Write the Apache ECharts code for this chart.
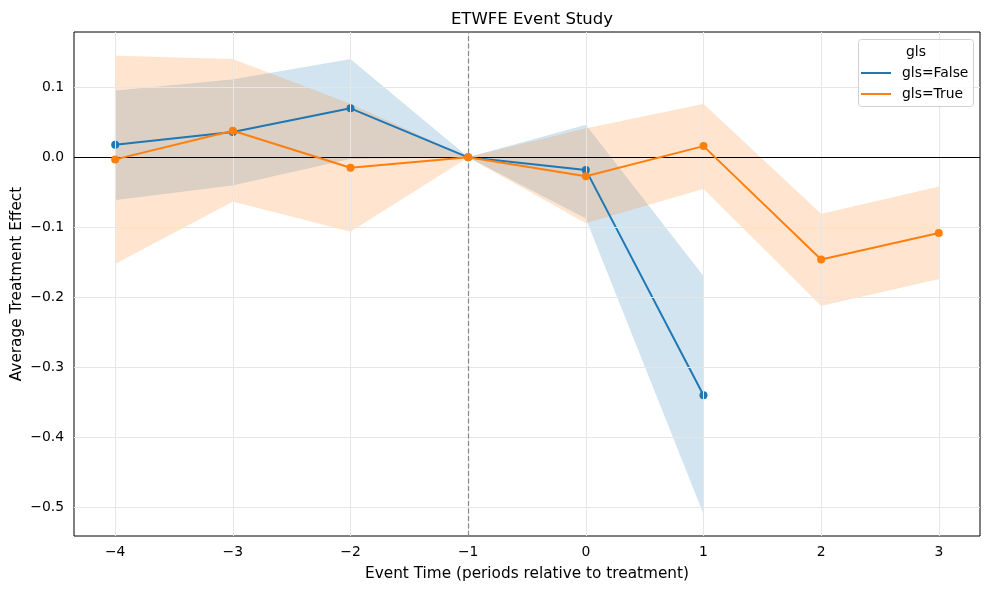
<!DOCTYPE html>
<html lang="en">
<head>
  <meta charset="UTF-8">
  <title>ETWFE Event Study</title>
  <style>
    html, body { margin: 0; padding: 0; background: #fff; }
  </style>
</head>
<body>
  <div id="main" style="width:989px;height:590px;"></div>
  <script src="https://cdn.jsdelivr.net/npm/echarts@6/dist/echarts.min.js"></script>
  <script>
  // event times and estimates
  var timesFalse = [-4, -3, -2, -1, 0, 1]
  var effectFalse = [0.018, 0.036, 0.070, 0.000, -0.018, -0.340]
  var lowerFalse = [-0.061, -0.040, -0.002, 0.000, -0.087, -0.509]
  var upperFalse = [0.095, 0.111, 0.140, 0.000, 0.046, -0.170]

  var timesTrue = [-4, -3, -2, -1, 0, 1, 2, 3]
  var effectTrue = [-0.003, 0.038, -0.015, 0.000, -0.027, 0.016, -0.146, -0.108]
  var lowerTrue = [-0.152, -0.063, -0.106, 0.000, -0.094, -0.045, -0.212, -0.174]
  var upperTrue = [0.145, 0.140, 0.076, 0.000, 0.041, 0.076, -0.081, -0.042]

  var xTicks = [-4, -3, -2, -1, 0, 1, 2, 3]
  var yTicks = [-0.5, -0.4, -0.3, -0.2, -0.1, 0.0, 0.1]
  var refTime = -1

  var BLUE = '#1f77b4'
  var ORANGE = '#ff7f0e'
  var FONT = 'DejaVu Sans'

  function minus(s) { return String(s).replace('-', '\u2212') }

  function band(name, color, xs, lo, hi) {
    return {
      name: name + ' band',
      type: 'custom',
      clip: true,
      silent: true,
      z: 1,
      data: xs.map(function (x, i) { return [x, lo[i], hi[i]] }),
      encode: { x: 0, y: [1, 2] },
      renderItem: function (params, api) {
        if (params.dataIndex !== 0) return
        var pts = []
        xs.forEach(function (x, i) { pts.push(api.coord([x, hi[i]])) })
        for (var i = xs.length - 1; i >= 0; i--) pts.push(api.coord([xs[i], lo[i]]))
        return {
          type: 'polygon',
          shape: { points: pts },
          style: { fill: color, opacity: 0.2, stroke: color, lineWidth: 1, strokeOpacity: 0.2 }
        }
      }
    }
  }

  function line(name, color, xs, ys, z) {
    return {
      name: name,
      type: 'line',
      z: z,
      data: xs.map(function (x, i) { return [x, ys[i]] }),
      symbol: 'circle',
      symbolSize: 8,
      showSymbol: true,
      itemStyle: { color: color },
      lineStyle: { color: color, width: 2 },
      emphasis: { disabled: true },
      animation: false
    }
  }

  var gridColor = '#e6e6e6'
  var guides = {
    name: 'guides',
    type: 'line',
    data: [],
    z: 0,
    silent: true,
    markLine: {
      silent: true,
      symbol: 'none',
      animation: false,
      label: { show: false },
      emphasis: { disabled: true },
      data: xTicks.map(function (v) { return { xAxis: v, lineStyle: { color: gridColor, width: 1, type: 'solid' } } })
        .concat(yTicks.map(function (v) { return { yAxis: v, lineStyle: { color: gridColor, width: 1, type: 'solid' } } }))
    }
  }

  var refs = {
    name: 'refs',
    type: 'line',
    data: [],
    z: 3,
    silent: true,
    markLine: {
      silent: true,
      symbol: 'none',
      animation: false,
      label: { show: false },
      emphasis: { disabled: true },
      data: [
        { yAxis: 0, lineStyle: { color: '#000', width: 1, type: 'solid' } },
        { xAxis: refTime, lineStyle: { color: '#888', width: 1.2, type: [5, 2.5] } }
      ]
    }
  }

  var myChart = echarts.init(document.getElementById('main'))
  var option = {
    animation: false,
    textStyle: { fontFamily: FONT },
    title: {
      text: 'ETWFE Event Study',
      left: 527,
      top: 6,
      textAlign: 'center',
      textStyle: { fontFamily: FONT, fontSize: 16.5, fontWeight: 'normal', color: '#000' }
    },
    grid: {
      left: 74, right: 9, top: 32, bottom: 54,
      outerBoundsMode: 'none',
      containLabel: false,
      show: true, borderColor: '#000', borderWidth: 1, backgroundColor: 'transparent'
    },
    legend: {
      data: ['gls=False', 'gls=True'],
      orient: 'vertical',
      left: 861,
      top: 66,
      padding: 0,
      itemWidth: 30,
      itemHeight: 2,
      itemGap: 7,
      icon: 'rect',
      z: 20,
      selectedMode: false,
      textStyle: { fontFamily: FONT, fontSize: 13.9, color: '#000', padding: [0, 0, 0, 6] }
    },
    graphic: [
      {
        type: 'rect', z: 15, left: 858, top: 39,
        shape: { width: 115, height: 67, r: 3 },
        style: { fill: 'rgba(255,255,255,0.8)', stroke: '#d0d0d0', lineWidth: 1 }
      },
      {
        type: 'text', z: 16, left: 906, top: 45,
        style: { text: 'gls', fill: '#000', font: '13.9px "DejaVu Sans"' }
      }
    ],
    xAxis: {
      type: 'value',
      min: -4.35,
      max: 3.35,
      name: 'Event Time (periods relative to treatment)',
      nameLocation: 'middle',
      nameGap: 31,
      nameMoveOverlap: false,
      nameTextStyle: { fontFamily: FONT, fontSize: 15.3, color: '#000' },
      axisLine: { show: false },
      splitLine: { show: false },
      axisTick: { show: true, length: 5, lineStyle: { color: '#000' }, customValues: xTicks },
      axisLabel: {
        customValues: xTicks,
        margin: 9,
        color: '#000',
        fontFamily: FONT,
        fontSize: 13.9,
        formatter: function (v) { return minus(v) }
      }
    },
    yAxis: {
      type: 'value',
      min: -0.541,
      max: 0.179,
      name: 'Average Treatment Effect',
      nameLocation: 'middle',
      nameGap: 49,
      nameMoveOverlap: false,
      nameTextStyle: { fontFamily: FONT, fontSize: 15.3, color: '#000' },
      axisLine: { show: false },
      splitLine: { show: false },
      axisTick: { show: true, length: 5, lineStyle: { color: '#000' }, customValues: yTicks },
      axisLabel: {
        customValues: yTicks,
        margin: 10,
        color: '#000',
        fontFamily: FONT,
        fontSize: 13.9,
        formatter: function (v) { return minus(Number(v).toFixed(1)) }
      }
    },
    series: [
      guides,
      band('gls=False', BLUE, timesFalse, lowerFalse, upperFalse),
      band('gls=True', ORANGE, timesTrue, lowerTrue, upperTrue),
      refs,
      line('gls=False', BLUE, timesFalse, effectFalse, 4),
      line('gls=True', ORANGE, timesTrue, effectTrue, 5)
    ]
  }
  myChart.setOption(option)
  </script>
</body>
</html>
